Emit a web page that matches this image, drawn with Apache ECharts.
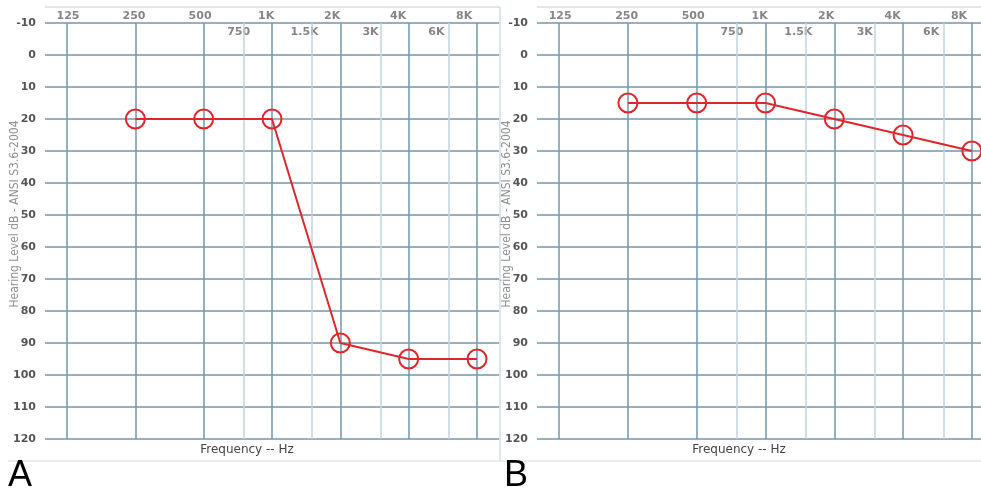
<!DOCTYPE html>
<html><head><meta charset="utf-8">
<script src="https://cdn.jsdelivr.net/npm/echarts@6/dist/echarts.min.js"></script>
<style>html,body{margin:0;padding:0;background:#fff}#c{width:981px;height:494px}</style>
</head><body><div id="c"></div>
<script>
// ---- data ----
var mainFreqs = [125, 250, 500, 1000, 2000, 4000, 8000];
var mainLabels = ['125', '250', '500', '1K', '2K', '4K', '8K'];
var midFreqs = [750, 1500, 3000, 6000];
var midLabels = ['750', '1.5K', '3K', '6K'];
var testFreqs = [250, 500, 1000, 2000, 4000, 8000];
var levelsA = [20, 20, 20, 90, 95, 95];
var levelsB = [15, 15, 15, 20, 25, 30];
var yTitle = 'Hearing Level dB - ANSI S3.6-2004';
var xTitle = 'Frequency -- Hz';
var panelNames = ['A', 'B'];

// ---- styles ----
var gridColor = '#7097ae', midColor = '#bfd4e3', red = '#e0262b';
var chart = echarts.init(document.getElementById('c'));
var grids = [
  {left: 45, width: 454, top: 23, bottom: 55, outerBoundsMode: 'none'},
  {left: 537, width: 457, top: 23, bottom: 55, outerBoundsMode: 'none'}
];
var xAxes = [], yAxes = [], series = [], graphics = [];
[levelsA, levelsB].forEach(function (levels, gi) {
  xAxes.push({gridIndex: gi, type: 'log', logBase: 2, min: 100, max: 10000,
    axisLabel: {show: false}, axisTick: {show: false}, axisLine: {show: false}, splitLine: {show: false}});
  yAxes.push({gridIndex: gi, type: 'value', inverse: true, min: -10, max: 120, interval: 10,
    axisLine: {show: false}, axisTick: {show: false},
    axisLabel: {color: '#555', fontFamily: 'DejaVu Sans', fontWeight: 'bold', fontSize: 11, margin: 9},
    splitLine: {show: true, lineStyle: {color: gridColor, width: 1.5}}});
  // vertical grid lines
  var ml = [];
  midFreqs.forEach(function (f) { ml.push({xAxis: f, lineStyle: {color: midColor, width: 1.5, type: 'solid'}}); });
  mainFreqs.forEach(function (f) { ml.push({xAxis: f, lineStyle: {color: gridColor, width: 1.5, type: 'solid'}}); });
  series.push({type: 'line', xAxisIndex: gi, yAxisIndex: gi, data: [], silent: true, z: 1,
    markLine: {silent: true, symbol: ['none', 'none'], label: {show: false}, animation: false, data: ml}});
  // frequency tick labels
  var lab = [];
  mainFreqs.forEach(function (f, i) {
    lab.push({name: mainLabels[i], value: [f, -10],
      label: {position: 'top', distance: 1, offset: [1 - 2.3 * i, 0]}});
  });
  midFreqs.forEach(function (f, i) {
    lab.push({name: midLabels[i], value: [f, -10],
      label: {position: 'bottom', distance: 3, offset: [-5 - 2.4 * i, 0]}});
  });
  series.push({type: 'scatter', xAxisIndex: gi, yAxisIndex: gi, symbolSize: 1, silent: true, z: 2,
    itemStyle: {color: 'rgba(0,0,0,0)'},
    label: {show: true, formatter: '{b}', color: '#666', fontFamily: 'DejaVu Sans', fontWeight: 'bold', fontSize: 11},
    data: lab});
  // audiogram
  series.push({type: 'line', xAxisIndex: gi, yAxisIndex: gi, z: 5,
    data: testFreqs.map(function (f, i) { return [f, levels[i]]; }),
    symbol: 'circle', symbolSize: 19,
    itemStyle: {color: 'rgba(255,255,255,0)', borderColor: red, borderWidth: 2},
    lineStyle: {color: red, width: 2}});
});
var offs = [0, 492];
offs.forEach(function (o, gi) {
  var L = grids[gi].left;
  graphics.push({type: 'line', shape: {x1: L, y1: 7, x2: L + 455, y2: 7}, style: {stroke: '#d3dde4', lineWidth: 1.5}, silent: true});
  graphics.push({type: 'line', shape: {x1: o + 8, y1: 461, x2: o + 500, y2: 461}, style: {stroke: '#e3e8ec', lineWidth: 1.5}, silent: true});
  graphics.push({type: 'line', shape: {x1: o + 500, y1: 7, x2: o + 500, y2: 461}, style: {stroke: '#d3dde4', lineWidth: 1.5}, silent: true});
  graphics.push({type: 'text', x: o + 15, y: 214, rotation: Math.PI / 2,
    style: {text: yTitle, fill: '#909090', font: '12px "Liberation Sans Narrow", "DejaVu Sans Condensed", sans-serif', align: 'center', verticalAlign: 'middle'}});
  graphics.push({type: 'text', x: L + 202, y: 450,
    style: {text: xTitle, fill: '#444', font: '12px "DejaVu Sans", sans-serif', align: 'center', verticalAlign: 'middle'}});
  graphics.push({type: 'text', x: o + 8 + (gi ? 4 : 0), y: 476,
    style: {text: panelNames[gi], fill: '#000', font: '36px "Liberation Sans", Arial, sans-serif', align: 'left', verticalAlign: 'middle'}});
});
chart.setOption({animation: false, grid: grids, xAxis: xAxes, yAxis: yAxes, series: series, graphic: graphics});
</script></body></html>
